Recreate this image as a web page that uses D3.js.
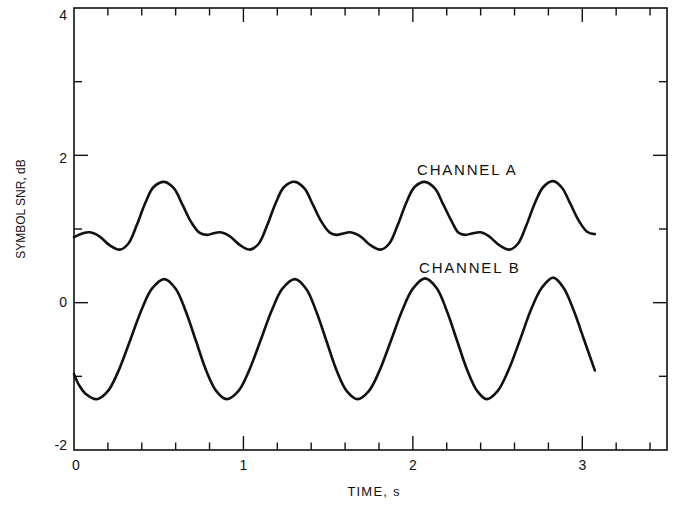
<!DOCTYPE html>
<html>
<head>
<meta charset="utf-8">
<script src="https://cdn.jsdelivr.net/npm/d3@7"></script>
<style>
  body { margin: 0; background: #fff; }
  svg { display: block; }
  text { font-family: "Liberation Sans", Arial, Helvetica, sans-serif; fill: #111; }
</style>
</head>
<body>
<svg id="chart" width="677" height="506"></svg>
<script>
// ---- Data ----
const timeA = [0.00,0.05,0.094,0.15,0.21,0.271,0.32,0.37,0.42,0.47,0.533,0.59,0.64,0.69,0.74,
  0.786,0.82,0.865,0.92,0.98,1.038,1.09,1.14,1.19,1.24,1.304,1.36,1.41,1.46,1.51,
  1.55,1.59,1.63,1.69,1.75,1.81,1.86,1.91,1.96,2.01,2.071,2.13,2.18,2.23,2.27,
  2.31,2.35,2.40,2.45,2.51,2.57,2.62,2.67,2.72,2.77,2.828,2.88,2.93,2.98,3.03,3.074];
const snrA = [0.89,0.94,0.955,0.90,0.78,0.72,0.80,1.05,1.35,1.57,1.64,1.55,1.33,1.10,0.95,
  0.92,0.94,0.955,0.90,0.78,0.72,0.80,1.05,1.35,1.57,1.64,1.55,1.33,1.10,0.95,
  0.92,0.94,0.955,0.90,0.78,0.72,0.80,1.05,1.35,1.57,1.64,1.55,1.33,1.10,0.95,
  0.92,0.94,0.955,0.90,0.78,0.72,0.80,1.05,1.35,1.57,1.65,1.56,1.34,1.11,0.96,0.93];

const timeB = [0.00,0.03,0.07,0.134,0.20,0.26,0.33,0.40,0.46,0.533,0.60,0.66,0.72,0.78,0.84,0.90,
  0.97,1.03,1.10,1.17,1.23,1.304,1.37,1.43,1.49,1.55,1.61,1.674,
  1.74,1.80,1.87,1.94,2.00,2.071,2.14,2.20,2.26,2.32,2.38,2.435,
  2.50,2.56,2.63,2.70,2.76,2.828,2.89,2.95,3.01,3.074];
const snrB = [-0.97,-1.12,-1.24,-1.31,-1.20,-0.94,-0.52,-0.09,0.19,0.32,0.19,-0.12,-0.52,-0.92,-1.20,-1.31,
  -1.20,-0.94,-0.52,-0.09,0.19,0.32,0.19,-0.12,-0.52,-0.92,-1.20,-1.31,
  -1.20,-0.94,-0.52,-0.09,0.19,0.33,0.20,-0.11,-0.51,-0.91,-1.20,-1.31,
  -1.20,-0.94,-0.52,-0.08,0.20,0.34,0.20,-0.11,-0.50,-0.92];

const xTickValues = [0, 1, 2, 3];
const yTickValues = [-2, 0, 2, 4];
const seriesLabels = ["CHANNEL A", "CHANNEL B"];
const xTitle = "TIME, s";
const yTitle = "SYMBOL SNR, dB";

// ---- Layout ----
const svg = d3.select("#chart");
const x = d3.scaleLinear().domain([0, 3.5]).range([74, 667]);
const y = d3.scaleLinear().domain([-2, 4]).range([450, 8]);
const yLabelPos = d3.scaleLinear().domain([-2, 4]).range([445, 15]);

// frame
const frame = svg.append("g").attr("stroke", "#111").attr("stroke-width", 1.6).attr("fill", "none");
frame.append("rect")
  .attr("x", x(0)).attr("y", y(4))
  .attr("width", x(3.5) - x(0)).attr("height", y(-2) - y(4));

// x ticks (bottom and top), every 0.2
const xMinor = d3.range(0, 3.5001, 0.2).map(d => +d.toFixed(2)).filter(d => d > 0 && d < 3.5);
const isMajorX = d => Math.abs(d - Math.round(d)) < 1e-6;
const tickG = svg.append("g").attr("stroke", "#111").attr("stroke-width", 1.4);
xMinor.forEach(d => {
  const len = isMajorX(d) ? 14 : 7.5;
  tickG.append("line").attr("x1", x(d)).attr("x2", x(d)).attr("y1", y(-2)).attr("y2", y(-2) - len);
  tickG.append("line").attr("x1", x(d)).attr("x2", x(d)).attr("y1", y(4)).attr("y2", y(4) + len);
});
// y ticks (left and right), every 1
d3.range(-1, 4).forEach(d => {
  const len = (d % 2 === 0) ? 14 : 8;
  tickG.append("line").attr("x1", x(0)).attr("x2", x(0) + len).attr("y1", y(d)).attr("y2", y(d));
  tickG.append("line").attr("x1", x(3.5)).attr("x2", x(3.5) - len).attr("y1", y(d)).attr("y2", y(d));
});

// tick labels
svg.append("g").selectAll("text").data(xTickValues).join("text")
  .attr("x", d => x(d) + (d === 0 ? 2 : 0)).attr("y", 470)
  .attr("text-anchor", "middle").attr("font-size", 14)
  .text(d => d);
svg.append("g").selectAll("text").data(yTickValues).join("text")
  .attr("x", 67).attr("y", d => yLabelPos(d) + 5)
  .attr("text-anchor", "end").attr("font-size", 14)
  .text(d => d < 0 ? "-" + Math.abs(d) : d);

// axis titles
svg.append("text").attr("x", 374).attr("y", 496)
  .attr("text-anchor", "middle").attr("font-size", 13).attr("letter-spacing", 1.2)
  .text(xTitle);
svg.append("text").attr("transform", "translate(25,209) rotate(-90)")
  .attr("text-anchor", "middle").attr("font-size", 12)
  .text(yTitle);

// curves
const line = d3.line().x(d => x(d[0])).y(d => y(d[1])).curve(d3.curveCatmullRom.alpha(0.5));
const dataA = timeA.map((t, i) => [t, snrA[i]]);
const dataB = timeB.map((t, i) => [t, snrB[i]]);
[dataA, dataB].forEach(data => {
  svg.append("path").datum(data).attr("d", line)
    .attr("fill", "none").attr("stroke", "#111").attr("stroke-width", 2.6)
    .attr("stroke-linejoin", "round").attr("stroke-linecap", "round");
});

// series labels
svg.append("text").attr("x", 417).attr("y", 175)
  .attr("font-size", 15).attr("letter-spacing", 1.8).text(seriesLabels[0]);
svg.append("text").attr("x", 419).attr("y", 273)
  .attr("font-size", 15).attr("letter-spacing", 1.8).text(seriesLabels[1]);
</script>
</body>
</html>
